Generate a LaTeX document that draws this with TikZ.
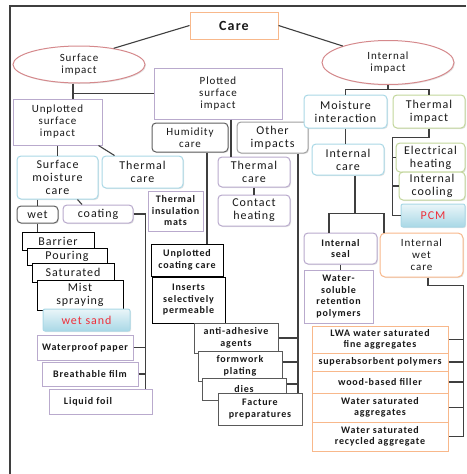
\documentclass[tikz,border=0pt]{standalone}
\usepackage{fontspec}
\setmainfont{Carlito}[LetterSpace=8]
\usepackage{tikz}
\usetikzlibrary{shapes.geometric,shadows}

\definecolor{lnk}{HTML}{3F3F3F}
\definecolor{pur}{HTML}{B9AACD}
\definecolor{lblu}{HTML}{A9D8E6}
\definecolor{grn}{HTML}{C2D69B}
\definecolor{org}{HTML}{F8B88B}
\definecolor{ellred}{HTML}{D5898C}
\definecolor{dgry}{HTML}{5F5F5F}
\definecolor{mgry}{HTML}{A0A0A0}
\definecolor{txtred}{HTML}{EE2F3A}

\begin{document}
\begin{tikzpicture}[x=1pt, y=-1pt,
    every node/.style={draw, fill=white, align=center, inner sep=1pt, line width=1pt, text=black!90},
    sz/.style 2 args={minimum width=#1pt, minimum height=#2pt},
    big/.style={font=\fontsize{12}{13}\selectfont},
    mid/.style={font=\fontsize{11}{12}\selectfont},
    sml/.style={font=\bfseries\fontsize{10}{11.5}\selectfont},
    shd/.style={drop shadow={shadow xshift=1pt, shadow yshift=-1pt, opacity=.22}},
    oval/.style={ellipse, draw=ellred, inner sep=0pt, mid, shd},
    purbox/.style={draw=pur, shd},
    purrbox/.style={draw=pur, rounded corners=4pt, shd},
    blubox/.style={draw=lblu, rounded corners=4pt, shd},
    grnbox/.style={draw=grn, rounded corners=4pt, shd},
    dgrybox/.style={draw=dgry, rounded corners=4pt, shd},
    mgrybox/.style={draw=mgry, rounded corners=4pt, shd},
    blkbox/.style={draw=black, shd},
    gbox/.style={draw=black!65, shd},
    orgbox/.style={draw=org, shd},
    orgrbox/.style={draw=org, rounded corners=5pt, shd},
    sand/.style={draw=lblu, top color=lblu!25, bottom color=lblu, text=txtred, rounded corners=2pt, shd},
    wire/.style={draw=lnk, line width=1.1pt}]
    \useasboundingbox (0,0) rectangle (466,474);
    \draw[lnk, line width=1.2pt] (466,6) -- (10,6) -- (10,474);

    % top level
    \node[orgbox, sz={88}{27}, font=\bfseries\fontsize{14}{16}\selectfont] (care) at (234,25.5) {Care};
    \node[oval, sz={132}{37}] (surf) at (79,64.5) {Surface\\impact};
    \node[oval, sz={132}{44}] (intimp) at (388,62.5) {Internal\\impact};

    % surface side
    \node[purbox, mid, sz={128}{51}] (plotted) at (218,93.5) {Plotted\\surface\\impact};
    \node[purbox, mid, sz={89}{46}] (unpl) at (57.5,122) {Unplotted\\surface\\impact};
    \node[dgrybox, mid, sz={76}{29}] (humid) at (190,137.5) {Humidity\\care};
    \node[mgrybox, big, sz={71}{31}] (other) at (272.5,137.5) {Other\\impacts};
    \node[purrbox, big, sz={72}{30}] (thc2) at (254,172) {Thermal\\care};
    \node[purrbox, big, sz={72}{31}] (contact) at (254,210.5) {Contact\\heating};
    \node[blubox, big, sz={81}{43}] (smc) at (57.5,177.5) {Surface\\moisture\\care};
    \node[blubox, big, sz={81}{32}] (thc1) at (142.5,172) {Thermal\\care};
    \node[dgrybox, big, sz={41}{17}] (wet) at (37.5,214.5) {wet};
    \node[purrbox, big, sz={70}{18}] (coating) at (98,214) {coating};
    \node[purbox, sml, sz={55}{40}] (mats) at (175.5,211) {Thermal\\insulation\\mats};
    \node[blkbox, big, sz={72}{18}] (barrier) at (58,241) {Barrier};
    \node[blkbox, big, sz={80}{17}] (pouring) at (67,256.5) {Pouring};
    \node[blkbox, big, sz={82}{19}] (saturated) at (73,272.5) {Saturated};
    \node[blkbox, big, sz={86}{30}] (mist) at (80,295) {Mist\\spraying};
    \node[sand, big, sz={87}{22}] (wetsand) at (86.5,320) {wet sand};
    \node[purbox, sml, sz={96}{25}] (wpaper) at (85,347.5) {Waterproof paper};
    \node[purbox, sml, sz={96}{24}] (bfilm) at (90,374) {Breathable film};
    \node[purbox, sml, sz={103}{25}] (lfoil) at (100.5,401.5) {Liquid foil\hspace*{25pt}};
    \node[blkbox, sml, sz={72}{32}] (ucc) at (187,260) {Unplotted\\coating care};
    \node[blkbox, sml, sz={73}{46}] (insert) at (188.5,300) {Inserts\\selectively\\permeable};
    \node[gbox, sml, sz={84}{30}] (anti) at (236,338) {anti-adhesive\\agents};
    \node[gbox, sml, sz={84}{30}] (formw) at (240,366) {formwork\\plating};
    \node[gbox, sml, sz={84}{22}] (dies) at (244,389) {dies};
    \node[gbox, sml, sz={84}{32}] (facture) at (260,409) {Facture\\preparatures};

    % internal side
    \node[blubox, big, sz={83}{33}] (moist) at (345.5,111.5) {Moisture\\interaction};
    \node[grnbox, big, sz={72}{33}] (thimp) at (429,111.5) {Thermal\\impact};
    \node[blubox, big, sz={72}{31}] (intcare) at (348,159.5) {Internal\\care};
    \node[grnbox, big, sz={69}{29}] (elec) at (430.5,157.5) {Electrical\\heating};
    \node[grnbox, big, sz={66}{28}] (cool) at (432,186) {Internal\\cooling};
    \node[sand, big, sz={64}{23}] (pcm) at (433,215.5) {PCM};
    \node[purrbox, sml, sz={73}{31}] (seal) at (340.5,248.5) {Internal\\seal};
    \node[purbox, sml, sz={69}{53}] (wsrp) at (338.5,296.5) {Water-\\soluble\\retention\\polymers};
    \node[orgrbox, mid, sz={83}{44}] (iwc) at (421.5,255) {Internal\\wet\\care};
    \node[orgbox, sml, sz={136}{27}] (lwa) at (380,339.5) {LWA water saturated\\fine aggregates};
    \node[orgbox, sml, sz={136}{18}] (sap) at (380,362) {superabsorbent polymers};
    \node[orgbox, sml, sz={136}{22}] (wood) at (380,382) {wood-based filler};
    \node[orgbox, sml, sz={136}{29}] (wsa) at (380,407.5) {Water saturated\\aggregates};
    \node[orgbox, sml, sz={136}{29}] (wsra) at (380,436.5) {Water saturated\\recycled aggregate};

    % connectors
    \draw[wire] (care.west) -- (surf.25);
    \draw[wire] (care.east) -- (intimp.160);
    \draw[wire] ([xshift=-6pt]surf.south) |- (plotted.west);
    \draw[wire] ([xshift=-6pt]surf.south) -- ([xshift=-6pt]surf.south |- unpl.north);
    \draw[wire] ([xshift=13pt]plotted.south) -- ([xshift=13pt]plotted.south |- thc2.north);
    \draw[wire] ([xshift=17pt]humid.south) -- ([xshift=17pt]humid.south |- ucc.north);
    \coordinate (ox) at ([xshift=25.5pt]other.south);
    \draw[wire] (ox) -- (ox |- facture.north);
    \draw[wire] (anti.east) -- (anti.east -| ox);
    \draw[wire] ([yshift=4pt]formw.east) -- ([yshift=4pt]formw.east -| ox);
    \draw[wire] ([yshift=5pt]dies.east) -- ([yshift=5pt]dies.east -| ox);
    \draw[wire] (thc2) -- (contact);
    \draw[wire] (unpl) -- (smc);
    \draw[wire] ([xshift=-4pt]unpl.south east) -- ([xshift=13pt]thc1.north west);
    \draw[wire] (wet.north |- smc.south) -- (wet.north);
    \draw[wire] ([xshift=20pt]smc.south) -- ([xshift=-16pt]coating.north);
    \draw[wire] (wet.south) -- (wet.south |- barrier.north);
    \draw[wire] (coating.east) -- ++(12,0) coordinate (cx) -- (cx |- lfoil.north);
    \draw[wire] (wpaper.east) -- (wpaper.east -| cx);
    \draw[wire] (bfilm.east) -- (bfilm.east -| cx);

    \draw[wire] (intimp.south) -- ++(0,4.5) coordinate (ib);
    \draw[wire] (moist.north) |- (ib) -| (thimp.north);
    \draw[wire] (moist.south) -- (moist.south |- intcare.north);
    \draw[wire] (thimp.south) -- ++(0,9) -| ([xshift=-3pt]elec.west |- pcm.west) -- (pcm.west);
    \draw[wire] ([xshift=-3pt]elec.west) -- (elec.west);
    \draw[wire] ([xshift=-6pt]cool.west) -- (cool.west);
    \draw[wire] ([xshift=7pt]intcare.south) -- ++(0,38) coordinate (icb);
    \draw[wire] ([xshift=-11.5pt]seal.north) |- (icb) -| ([xshift=-37.5pt]iwc.north);
    \draw[wire] (seal.south) -- (seal.south |- wsrp.north);
    \draw[wire] ([xshift=6.5pt]iwc.south) -- ++(0,8) -| ([xshift=15pt]wsra.east) -- (wsra.east);
    \foreach \n in {lwa,sap,wood,wsa}
        \draw[wire] (\n.east) -- ([xshift=15pt]\n.east);
\end{tikzpicture}
\end{document}
